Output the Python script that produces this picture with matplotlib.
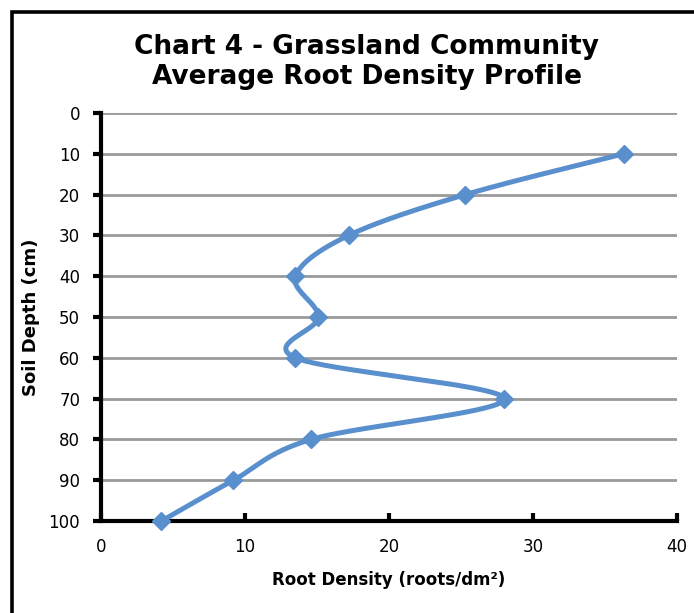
import matplotlib.pyplot as plt
import matplotlib.patches as patches
import numpy as np

# root density profile, one reading every 10 cm
depth = [10, 20, 30, 40, 50, 60, 70, 80, 90, 100]
density = [36.3, 25.3, 17.2, 13.5, 15.1, 13.5, 28.0, 14.6, 9.2, 4.2]

xticks = [0, 10, 20, 30, 40]
yticks = [0, 10, 20, 30, 40, 50, 60, 70, 80, 90, 100]

FONT = ['DejaVu Sans']
BLUE = '#5A8FCE'


def smooth(xs, ys, sx, sy, n=40):
    # catmull-rom through the points, done in screen-ish units so the
    # curve bends the same way it would on the page
    px = np.array(xs) * sx
    py = np.array(ys) * sy
    px = np.concatenate([[px[0]], px, [px[-1]]])
    py = np.concatenate([[py[0]], py, [py[-1]]])
    outx, outy = [], []
    for i in range(1, len(px) - 2):
        p0 = np.array([px[i], py[i]])
        p1 = np.array([px[i + 1], py[i + 1]])
        c1 = p0 + (p1 - np.array([px[i - 1], py[i - 1]])) / 6
        c2 = p1 - (np.array([px[i + 2], py[i + 2]]) - p0) / 6
        t = np.linspace(0, 1, n)[:, None]
        b = (1 - t) ** 3 * p0 + 3 * (1 - t) ** 2 * t * c1 + 3 * (1 - t) * t ** 2 * c2 + t ** 3 * p1
        outx.extend(b[:, 0])
        outy.extend(b[:, 1])
    return np.array(outx) / sx, np.array(outy) / sy


fig = plt.figure(figsize=(6.94, 6.13), dpi=100)
ax = fig.add_axes([101 / 694, 1 - 521 / 613, 576 / 694, 408 / 613])

# outer frame of the chart area
fig.patches.append(patches.Rectangle((11.5 / 694, -0.1), 1.2, 1 - 11.5 / 613 + 0.1,
                                     transform=fig.transFigure, fill=False,
                                     edgecolor='black', linewidth=2.6))

sx, sy = 576 / 40, 408 / 100
cx, cy = smooth(density, depth, sx, sy)
ax.plot(cx, cy, color=BLUE, linewidth=3.6, solid_capstyle='round', zorder=3)
ax.plot(density, depth, linestyle='none', marker='D', markersize=9,
        color=BLUE, zorder=4, clip_on=False)

ax.set_xlim(0, 40)
ax.set_ylim(100, 0)
ax.set_xticks(xticks)
ax.set_yticks(yticks)
ax.set_xticklabels([str(v) for v in xticks], family=FONT, fontsize=12)
ax.set_yticklabels([str(v) for v in yticks], family=FONT, fontsize=12)

ax.yaxis.grid(True, color='#9A9A9A', linewidth=2)
ax.set_axisbelow(True)
for s in ['top', 'right']:
    ax.spines[s].set_visible(False)
for s in ['left', 'bottom']:
    ax.spines[s].set_linewidth(3)
    ax.spines[s].set_color('black')
ax.tick_params(axis='y', direction='out', length=6, width=3, pad=9)
ax.tick_params(axis='x', direction='in', length=6, width=3, pad=12)

ax.set_xlabel('Root Density (roots/dm²)', family=FONT, fontsize=12,
              fontweight='bold', labelpad=11)
ax.set_ylabel('Soil Depth (cm)', family=FONT, fontsize=13,
              fontweight='bold', labelpad=6)

fig.text(367 / 694, 1 - 62 / 613, 'Chart 4 - Grassland Community\nAverage Root Density Profile',
         ha='center', va='center', family=FONT, fontsize=19, fontweight='bold',
         linespacing=1.15)

fig.savefig('out.png', dpi=100)
